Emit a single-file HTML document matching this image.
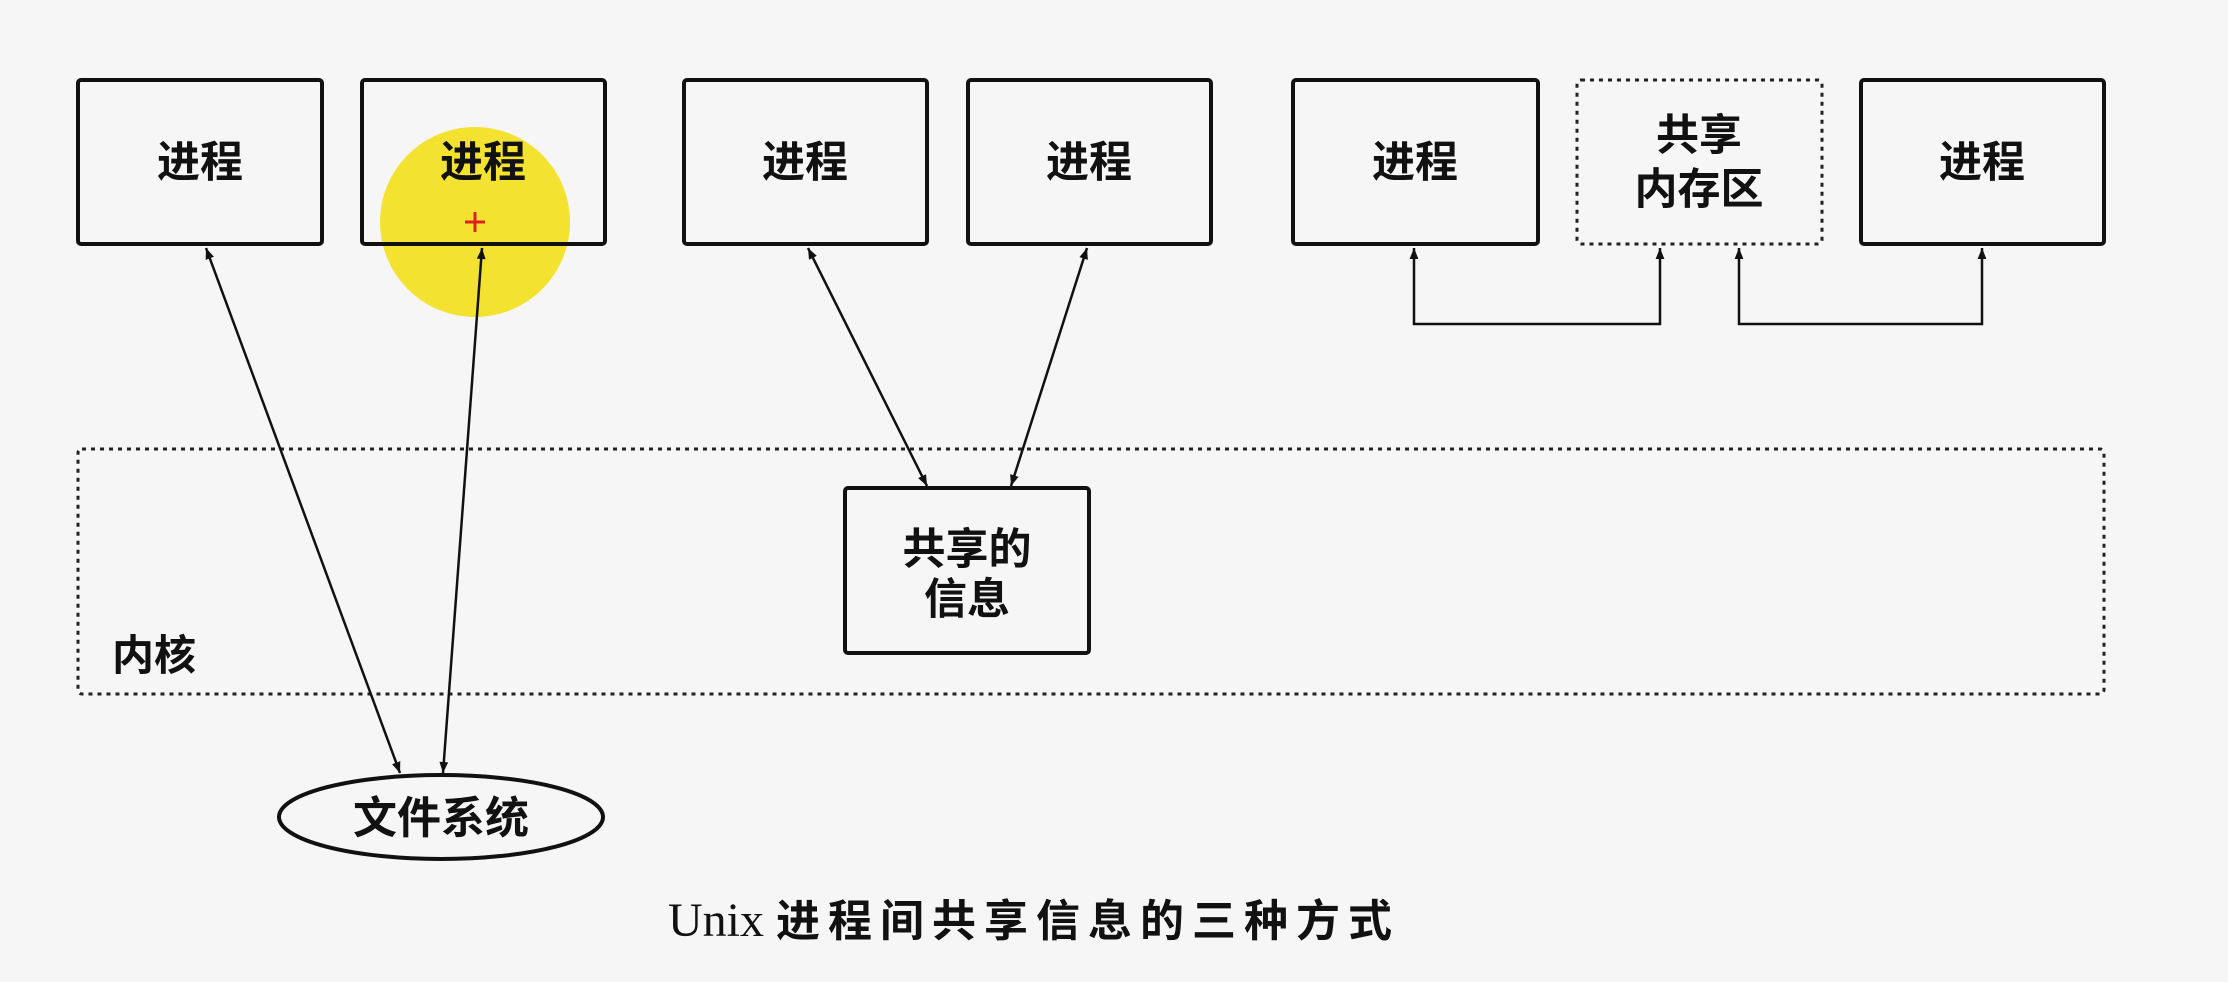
<!DOCTYPE html>
<html><head><meta charset="utf-8"><style>
html,body{margin:0;padding:0;background:#f6f6f6;}
svg{display:block}
text{font-family:"Liberation Sans","Noto Sans CJK SC",sans-serif;font-weight:bold;fill:#111;}
</style></head><body>
<svg width="2228" height="982" viewBox="0 0 2228 982" xmlns="http://www.w3.org/2000/svg">
<defs>
<marker id="b" viewBox="0 0 10 10" refX="10" refY="5" markerWidth="18" markerHeight="11" orient="auto-start-reverse" markerUnits="userSpaceOnUse">
<path d="M0,1 L10,5 L0,9 z" fill="#111"/></marker>
</defs>
<rect width="2228" height="982" fill="#f6f6f6"/>
<g fill="none" stroke="#111" stroke-width="4">
<rect x="78" y="80" width="244" height="164" rx="3"/>
<rect x="684" y="80" width="243" height="164" rx="3"/>
<rect x="968" y="80" width="243" height="164" rx="3"/>
<rect x="1293" y="80" width="245" height="164" rx="3"/>
<rect x="1861" y="80" width="243" height="164" rx="3"/>
<rect x="845" y="488" width="244" height="165" rx="3"/>
</g>
<g fill="none" stroke="#222" stroke-width="3" stroke-dasharray="4,5">
<rect x="1577" y="80" width="245" height="164" rx="4"/>
<rect x="78" y="449" width="2026" height="245" rx="4"/>
</g>
<circle cx="475" cy="222" r="95" fill="#f2e225" opacity="0.95"/>
<rect x="362" y="80" width="243" height="164" rx="3" fill="none" stroke="#111" stroke-width="4"/>
<g stroke="#111" stroke-width="2.5" fill="none" marker-start="url(#b)" marker-end="url(#b)">
<line x1="206" y1="248" x2="400" y2="773"/>
<line x1="482" y1="248" x2="443" y2="773"/>
<line x1="808" y1="248" x2="927" y2="486"/>
<line x1="1087" y1="248" x2="1011" y2="486"/>
<path d="M1414,248 V324 H1660 V248"/>
<path d="M1739,248 V324 H1982 V248"/>
</g>
<g stroke="#e02020" stroke-width="3"><line x1="465" y1="222" x2="485" y2="222"/><line x1="475" y1="212" x2="475" y2="232"/></g>
<ellipse cx="441" cy="817" rx="162" ry="42" fill="none" stroke="#111" stroke-width="4"/>
<g font-size="43" text-anchor="middle">
<text x="200" y="177">进程</text>
<text x="483" y="177">进程</text>
<text x="805" y="177">进程</text>
<text x="1089" y="177">进程</text>
<text x="1415" y="177">进程</text>
<text x="1982" y="177">进程</text>
<text x="1699" y="150">共享</text>
<text x="1699" y="204">内存区</text>
<text x="967" y="564">共享的</text>
<text x="967" y="614">信息</text>
<text x="441" y="833" font-size="44">文件系统</text>
</g>
<text x="112" y="670" font-size="42">内核</text>
<text x="668" y="936" font-size="44" letter-spacing="8"><tspan font-family="Liberation Serif,serif" font-weight="normal" font-size="48" letter-spacing="0">Unix </tspan>进程间共享信息的三种方式</text>
</svg>
</body></html>
